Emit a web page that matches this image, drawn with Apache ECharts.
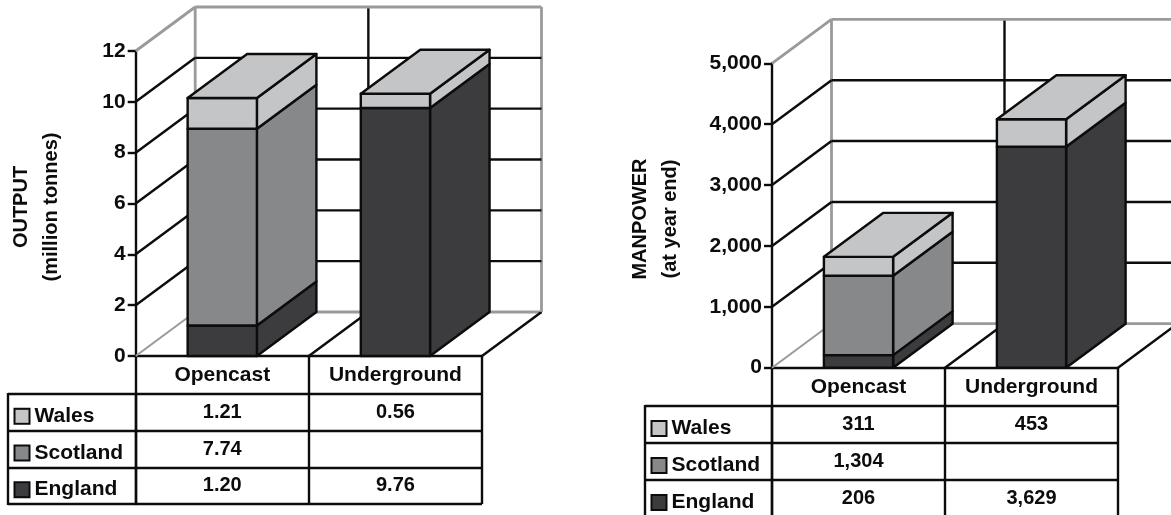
<!DOCTYPE html>
<html><head><meta charset="utf-8">
<style>html,body{margin:0;padding:0;background:#fff}#c{width:1171px;height:515px}</style>
<script src="https://cdn.jsdelivr.net/npm/echarts@6/dist/echarts.min.js"></script>
</head><body><div id="c"></div>
<script>
const categories = ['Opencast', 'Underground'];
const rowNames = ['England', 'Scotland', 'Wales'];
const outputEngland = [1.20, 9.76];
const outputScotland = [7.74, null];
const outputWales = [1.21, 0.56];
const manpowerEngland = [206, 3629];
const manpowerScotland = [1304, null];
const manpowerWales = [311, 453];
const outputTicks = [0, 2, 4, 6, 8, 10, 12];
const manpowerTicks = [0, 1000, 2000, 3000, 4000, 5000];
const rowColors = {England: '#3c3b3e', Scotland: '#87888a', Wales: '#c4c5c7'};

const FONT = '"Liberation Sans", Arial, sans-serif';
const INK = '#0c0c0c', WALL = '#9a9a9a';
const LW = 2.4;
const DX = 59.5, DY = 44;
const grid = [];
const xAxis = [];
const yAxis = [];
const series = [];
const graphic = [];

function fmt(panel, v) {
  return panel.decimals ? v.toFixed(2) : String(v).replace(/\B(?=(\d{3})+$)/g, ',');
}

function addPanel(i, panel) {
  const main = grid.length, tbl = main + 1;
  grid.push({left: panel.x, top: panel.top, width: panel.w, height: panel.h, outerBoundsMode: 'none', containLabel: false});
  grid.push({left: panel.x, top: panel.tableTop, width: panel.w, height: panel.tableH, outerBoundsMode: 'none', containLabel: false});

  xAxis.push({
    gridIndex: main, type: 'category', data: categories,
    axisLine: {lineStyle: {color: INK, width: LW}},
    axisTick: {show: true, length: 38, lineStyle: {color: INK, width: LW}},
    axisLabel: {margin: 9, fontFamily: FONT, fontWeight: 'bold', fontSize: 21, color: INK, interval: 0}
  });
  yAxis.push({
    gridIndex: main, type: 'value', min: 0, max: panel.ticks[panel.ticks.length - 1],
    interval: panel.ticks[1] - panel.ticks[0],
    name: panel.title, nameLocation: 'middle', nameRotate: 90, nameGap: panel.nameGap,
    nameTextStyle: {fontFamily: FONT, fontWeight: 'bold', fontSize: 20, color: INK, lineHeight: 30, padding: [0, 7, 0, 0]},
    axisLine: {show: true, lineStyle: {color: INK, width: LW}},
    axisTick: {show: true, length: 8, lineStyle: {color: INK, width: LW}},
    splitLine: {show: false},
    axisLabel: {margin: 10, fontFamily: FONT, fontWeight: 'bold', fontSize: 21, color: INK,
      formatter: v => String(v).replace(/\B(?=(\d{3})+$)/g, ',')}
  });

  xAxis.push({
    gridIndex: tbl, type: 'category', data: categories, position: 'top',
    axisLine: {show: false}, axisTick: {show: false}, axisLabel: {show: false},
    splitLine: {show: true, interval: 0, lineStyle: {color: INK, width: LW}}
  });
  const rich = {};
  rowNames.forEach(n => {
    rich['s' + n] = {width: 13, height: 13, backgroundColor: rowColors[n], borderColor: INK, borderWidth: 2};
  });
  rich.t = {fontFamily: FONT, fontWeight: 'bold', fontSize: 21, color: INK, padding: [0, 0, 0, 6]};
  yAxis.push({
    gridIndex: tbl, type: 'category', data: rowNames,
    axisLine: {show: true, lineStyle: {color: INK, width: LW}},
    axisTick: {show: true, length: panel.x - panel.tableLeft, lineStyle: {color: INK, width: LW}},
    splitLine: {show: true, interval: 0, lineStyle: {color: INK, width: LW}},
    axisLabel: {interval: 0, align: 'left', margin: panel.x - panel.tableLeft - 7.5, padding: [8, 0, 0, 0], rich: rich,
      formatter: n => '{s' + n + '|}{t|' + n + '}'}
  });
  graphic.push({type: 'line', silent: true,
    shape: {x1: panel.tableLeft, y1: panel.tableTop - 1, x2: panel.tableLeft, y2: panel.tableTop + panel.tableH + 1},
    style: {stroke: INK, lineWidth: LW}});

  // walls and gridlines
  series.push({
    type: 'custom', xAxisIndex: xAxis.length - 2, yAxisIndex: yAxis.length - 2, z: 1, silent: true,
    encode: {x: 0, y: 1},
    data: panel.ticks.map(t => [0, t]),
    renderItem: function (params, api) {
      const cs = params.coordSys;
      const y = api.coord([0, api.value(1)])[1];
      const l = cs.x, r = cs.x + cs.width;
      const first = params.dataIndex === 0, last = params.dataIndex === panel.ticks.length - 1;
      const col = first || last ? WALL : INK;
      const w = first || last ? 2.8 : LW;
      const kids = [
        {type: 'line', shape: {x1: l, y1: y, x2: l + DX, y2: y - DY}, style: {stroke: col, lineWidth: first ? 2 : w}},
        {type: 'line', shape: {x1: l + DX, y1: y - DY, x2: r + DX, y2: y - DY}, style: {stroke: col, lineWidth: w}}
      ];
      if (first) {
        const top = cs.y;
        const band = api.size([1, 0])[0];
        [l + band, r].forEach(fx => kids.push(
          {type: 'line', shape: {x1: fx, y1: y, x2: fx + DX, y2: y - DY}, style: {stroke: INK, lineWidth: LW}}));
        kids.push({type: 'line', shape: {x1: l + band + DX, y1: top - DY, x2: l + band + DX, y2: y - DY}, style: {stroke: INK, lineWidth: LW}});
        kids.push({type: 'line', shape: {x1: l + DX, y1: top - DY, x2: l + DX, y2: y - DY}, style: {stroke: WALL, lineWidth: 2.8}});
        kids.push({type: 'line', shape: {x1: r + DX, y1: top - DY, x2: r + DX, y2: y - DY}, style: {stroke: WALL, lineWidth: 2.8}});
      }
      return {type: 'group', children: kids};
    }
  });

  // stacked 3-D blocks
  const base = [0, 0];
  panel.stack.forEach((vals, si) => {
    const rows = [];
    vals.forEach((v, c) => {
      if (v == null) return;
      rows.push([c, base[c], base[c] + v, si === panel.stack.length - 1 ? 1 : 0]);
      base[c] += v;
    });
    const color = rowColors[rowNames[si]];
    series.push({
      type: 'custom', name: rowNames[si], xAxisIndex: xAxis.length - 2, yAxisIndex: yAxis.length - 2,
      z: 3, silent: true, encode: {x: 0, y: [1, 2]}, data: rows,
      renderItem: function (params, api) {
        const c = api.value(0);
        const cx = api.coord([c, 0])[0];
        const bw = api.size([1, 0])[0] * 0.4;
        const b = api.coord([c, api.value(1)])[1];
        const t = api.coord([c, api.value(2)])[1];
        const x0 = cx - bw / 2, x1 = cx + bw / 2;
        const st = {fill: color, stroke: INK, lineWidth: LW, lineJoin: 'round'};
        const kids = [
          {type: 'polygon', shape: {points: [[x1, b], [x1 + DX, b - DY], [x1 + DX, t - DY], [x1, t]]}, style: st},
          {type: 'rect', shape: {x: x0, y: t, width: bw, height: b - t}, style: st}
        ];
        if (api.value(3)) {
          kids.push({type: 'polygon', shape: {points: [[x0, t], [x1, t], [x1 + DX, t - DY], [x0 + DX, t - DY]]}, style: st});
        }
        return {type: 'group', children: kids};
      }
    });
  });

  // table values
  const cells = [];
  panel.stack.forEach((vals, si) => vals.forEach((v, c) => {
    if (v != null) cells.push([c, si, fmt(panel, v)]);
  }));
  series.push({
    type: 'custom', xAxisIndex: xAxis.length - 1, yAxisIndex: yAxis.length - 1, z: 4, silent: true,
    encode: {x: 0, y: 1}, data: cells,
    renderItem: function (params, api) {
      const p = api.coord([api.value(0), api.value(1)]);
      return {type: 'text', style: {
        text: cells[params.dataIndex][2], x: p[0], y: p[1],
        align: 'center', verticalAlign: 'middle',
        font: 'bold 20px ' + FONT, fill: INK
      }};
    }
  });
}

addPanel(0, {
  x: 135.7, w: 346.3, top: 51, h: 305, tableTop: 394, tableH: 110, tableLeft: 8,
  ticks: outputTicks, decimals: true, nameGap: 69,
  title: 'OUTPUT\n(million tonnes)',
  stack: [outputEngland, outputScotland, outputWales]
});
addPanel(1, {
  x: 772, w: 346, top: 63.3, h: 304.4, tableTop: 406, tableH: 111, tableLeft: 645,
  ticks: manpowerTicks, decimals: false, nameGap: 86.5,
  title: 'MANPOWER\n(at year end)',
  stack: [manpowerEngland, manpowerScotland, manpowerWales]
});

const chart = echarts.init(document.getElementById('c'), null, {renderer: 'canvas'});
chart.setOption({
  animation: false, backgroundColor: '#fff',
  grid, xAxis, yAxis, series, graphic: {elements: graphic}
});
</script></body></html>
